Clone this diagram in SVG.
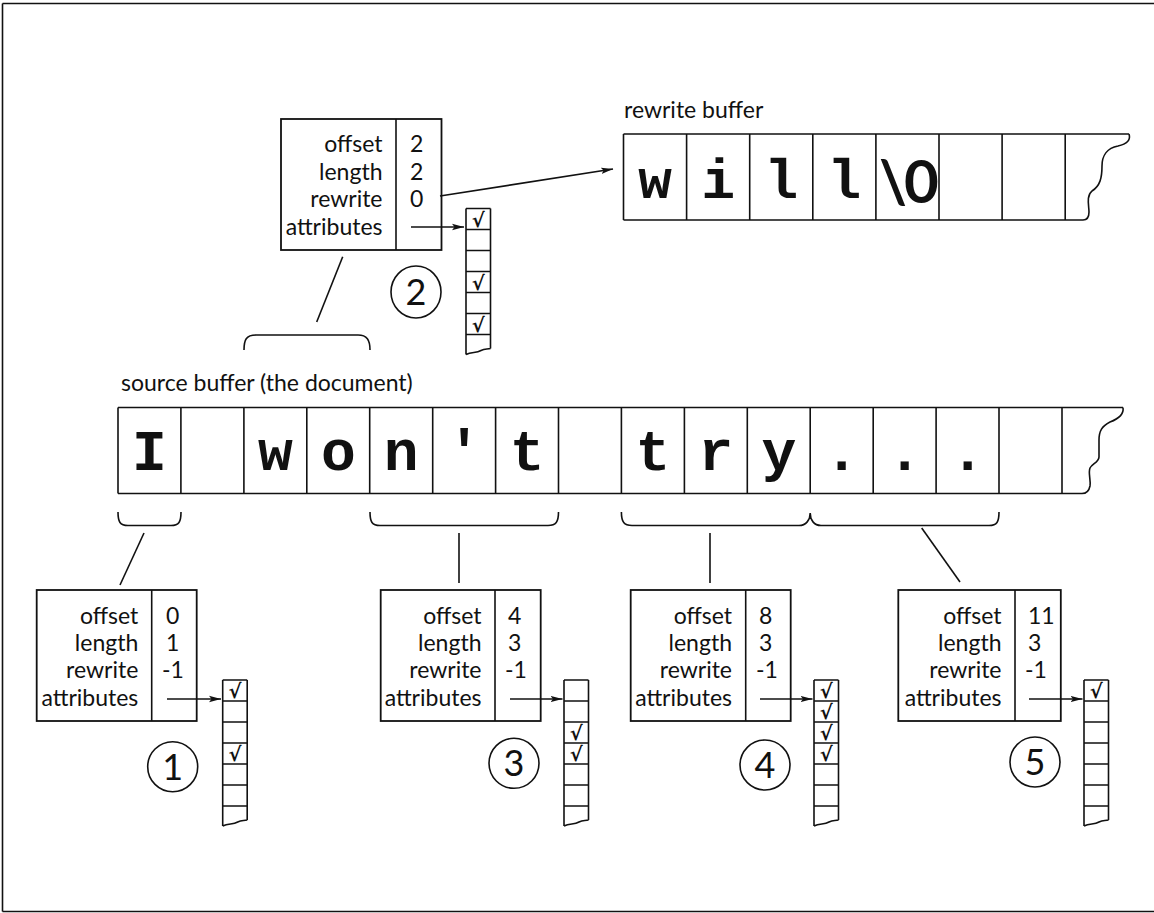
<svg xmlns="http://www.w3.org/2000/svg" width="1154" height="913" viewBox="0 0 1154 913">
<style>
.ln{fill:none;stroke:#111;stroke-width:1.6}
.box{fill:#fff;stroke:#111;stroke-width:1.8}
.lbl{font-family:Lato,"Liberation Sans",sans-serif;font-size:23px;fill:#111;text-anchor:end}
.val{font-family:Lato,"Liberation Sans",sans-serif;font-size:23px;fill:#111}
.cap{font-family:Lato,"Liberation Sans",sans-serif;font-size:23px;fill:#111}
.mono{font-family:"Liberation Mono",monospace;font-weight:bold;font-size:58px;fill:#111;text-anchor:middle}
.mono2{font-family:"Liberation Mono",monospace;font-weight:bold;font-size:56px;fill:#111;text-anchor:middle}
.num{font-family:Lato,"Liberation Sans",sans-serif;font-size:36px;fill:#111;text-anchor:middle}
.chk{font-family:"DejaVu Sans",sans-serif;font-weight:bold;font-size:19.5px;fill:#111;text-anchor:middle}
.circ{fill:none;stroke:#111;stroke-width:1.6}
</style>
<defs>
<marker id="ah" viewBox="0 0 12 8" refX="12" refY="4" markerWidth="12" markerHeight="8" markerUnits="userSpaceOnUse" orient="auto">
<path d="M0,0.8 L12,4 L0,7.2 L2.5,4 z" fill="#111"/>
</marker>
<g id="col">
<path class="ln" d="M0,0 L24.5,0 M0,21 L24.5,21 M0,42 L24.5,42 M0,63 L24.5,63 M0,84 L24.5,84 M0,105 L24.5,105 M0,126 L24.5,126 M0,0 L0,146 M24.5,0 L24.5,140 M0,146 C6,143 10,145 15,142 C19,140 21,141 24.5,140"/>
</g>
</defs>

<rect width="1154" height="913" fill="#fff"/>
<g id="frame">
<path class="ln" d="M2.5,3.5 L1154,3.5 M2.5,3.5 L2.5,911.5 M2.5,911.5 L1154,911.5" stroke-width="2"/>
</g>

<!-- Rewrite buffer -->
<g id="rewrite-buffer">
<text class="cap" x="624" y="118">rewrite buffer</text>
<path class="ln" d="M623.5,134 L1129,134 M623.5,220 L1083,220 M623.5,134 L623.5,220 M686.6,134 L686.6,220 M749.7,134 L749.7,220 M812.8,134 L812.8,220 M875.9,134 L875.9,220 M939,134 L939,220 M1002.1,134 L1002.1,220 M1065.2,134 L1065.2,220"/>
<path class="ln" d="M1129,134 C1131,140 1127,144 1118,146 C1107,148 1102,156 1102,166 C1102,178 1100,186 1092,191 C1086,196 1089,206 1089,212 C1089,217 1087,220 1083,220"/>
<text class="mono2" x="655" y="198">w</text>
<text class="mono2" x="718.2" y="198">i</text>
<text class="mono2" x="781.3" y="198">l</text>
<text class="mono2" x="844.4" y="198">l</text>
<text x="907.5" y="203" font-family="Lato,'Liberation Sans',sans-serif" font-weight="bold" font-size="60" fill="#111" text-anchor="middle" letter-spacing="-3">\0</text>
</g>

<!-- Source buffer -->
<g id="source-buffer">
<text class="cap" x="121" y="391">source buffer (the document)</text>
<path class="ln" d="M118,407.5 L1123,407.5 M118,493.5 L1082,493.5 M118,407.5 L118,493.5 M180.9,407.5 L180.9,493.5 M243.9,407.5 L243.9,493.5 M306.8,407.5 L306.8,493.5 M369.7,407.5 L369.7,493.5 M432.7,407.5 L432.7,493.5 M495.6,407.5 L495.6,493.5 M558.5,407.5 L558.5,493.5 M621.4,407.5 L621.4,493.5 M684.4,407.5 L684.4,493.5 M747.3,407.5 L747.3,493.5 M810.2,407.5 L810.2,493.5 M873.2,407.5 L873.2,493.5 M936.1,407.5 L936.1,493.5 M999,407.5 L999,493.5 M1062,407.5 L1062,493.5"/>
<path class="ln" d="M1123,407.5 C1124,414 1118,419 1110,422 C1102,426 1099,431 1099,440 L1099,457 C1099,462 1092,464 1090,468 C1088,473 1091,480 1090,486 C1089,491 1087,493.5 1082,493.5"/>
<text class="mono" x="149.5" y="470">I</text>
<text class="mono" x="275.3" y="470">w</text>
<text class="mono" x="338.3" y="470">o</text>
<text class="mono" x="401.2" y="470">n</text>
<text class="mono" x="464.2" y="470">'</text>
<text class="mono" x="527.1" y="470">t</text>
<text class="mono" x="652.9" y="470">t</text>
<text class="mono" x="715.8" y="470">r</text>
<text class="mono" x="778.8" y="470">y</text>
<text class="mono" x="841.7" y="470">.</text>
<text class="mono" x="904.6" y="470">.</text>
<text class="mono" x="967.6" y="470">.</text>
</g>

<!-- Record 2 (top) -->
<g id="record-2">
<rect class="box" x="281" y="119" width="160.5" height="131"/>
<path class="ln" d="M396,119 L396,250"/>
<text class="lbl" x="382.5" y="152">offset</text>
<text class="lbl" x="382.5" y="179.5">length</text>
<text class="lbl" x="382.5" y="207">rewrite</text>
<text class="lbl" x="382.5" y="234.5">attributes</text>
<text class="val" x="410" y="152">2</text>
<text class="val" x="410" y="179.5">2</text>
<text class="val" x="410" y="207">0</text>
</g>
<g id="attrs-2">
<use href="#col" x="466" y="208.5"/>
<text class="chk" x="478.3" y="226.5">√</text>
<text class="chk" x="478.3" y="289.5">√</text>
<text class="chk" x="478.3" y="331.5">√</text>
</g>
<g id="marker-2">
<ellipse class="circ" cx="416" cy="292" rx="25" ry="26"/>
<text class="num" x="416" y="305">2</text>
</g>

<!-- Record 1 -->
<g id="record-1">
<rect class="box" x="36.7" y="590" width="160" height="131"/>
<path class="ln" d="M151.7,590 L151.7,721"/>
<text class="lbl" x="138.3" y="624">offset</text>
<text class="lbl" x="138.3" y="651">length</text>
<text class="lbl" x="138.3" y="678">rewrite</text>
<text class="lbl" x="138.3" y="705.5">attributes</text>
<text class="val" x="166" y="624">0</text>
<text class="val" x="166" y="651">1</text>
<text class="val" x="162" y="678">-1</text>
</g>
<g id="attrs-1">
<use href="#col" x="222.7" y="680"/>
<text class="chk" x="235" y="698">√</text>
<text class="chk" x="235" y="761">√</text>
</g>
<g id="marker-1">
<circle class="circ" cx="172.7" cy="766.7" r="25"/>
<text class="num" x="172.7" y="779.5">1</text>
</g>

<!-- Record 3 -->
<g id="record-3">
<rect class="box" x="380.7" y="590" width="160" height="131"/>
<path class="ln" d="M495,590 L495,721"/>
<text class="lbl" x="481.5" y="624">offset</text>
<text class="lbl" x="481.5" y="651">length</text>
<text class="lbl" x="481.5" y="678">rewrite</text>
<text class="lbl" x="481.5" y="705.5">attributes</text>
<text class="val" x="508" y="624">4</text>
<text class="val" x="508" y="651">3</text>
<text class="val" x="505" y="678">-1</text>
</g>
<g id="attrs-3">
<use href="#col" x="564" y="680"/>
<text class="chk" x="576.3" y="740">√</text>
<text class="chk" x="576.3" y="761">√</text>
</g>
<g id="marker-3">
<circle class="circ" cx="514" cy="763.3" r="25"/>
<text class="num" x="514" y="776">3</text>
</g>

<!-- Record 4 -->
<g id="record-4">
<rect class="box" x="630.7" y="590" width="160" height="131"/>
<path class="ln" d="M745.7,590 L745.7,721"/>
<text class="lbl" x="732" y="624">offset</text>
<text class="lbl" x="732" y="651">length</text>
<text class="lbl" x="732" y="678">rewrite</text>
<text class="lbl" x="732" y="705.5">attributes</text>
<text class="val" x="759" y="624">8</text>
<text class="val" x="759" y="651">3</text>
<text class="val" x="756" y="678">-1</text>
</g>
<g id="attrs-4">
<use href="#col" x="814" y="680"/>
<text class="chk" x="826.3" y="698">√</text>
<text class="chk" x="826.3" y="719">√</text>
<text class="chk" x="826.3" y="740">√</text>
<text class="chk" x="826.3" y="761">√</text>
</g>
<g id="marker-4">
<circle class="circ" cx="765" cy="765" r="25"/>
<text class="num" x="765" y="778">4</text>
</g>

<!-- Record 5 -->
<g id="record-5">
<rect class="box" x="898.3" y="590" width="162.5" height="131"/>
<path class="ln" d="M1015,590 L1015,721"/>
<text class="lbl" x="1001.5" y="624">offset</text>
<text class="lbl" x="1001.5" y="651">length</text>
<text class="lbl" x="1001.5" y="678">rewrite</text>
<text class="lbl" x="1001.5" y="705.5">attributes</text>
<text class="val" x="1028" y="624">11</text>
<text class="val" x="1028" y="651">3</text>
<text class="val" x="1025" y="678">-1</text>
</g>
<g id="attrs-5">
<use href="#col" x="1084" y="680"/>
<text class="chk" x="1096.3" y="698">√</text>
</g>
<g id="marker-5">
<circle class="circ" cx="1035" cy="762" r="25"/>
<text class="num" x="1035" y="775">5</text>
</g>

<!-- Connectors: braces, leader lines, arrows -->
<g id="connectors">
<path class="ln" d="M244,350 C244,340 246,335 256,335 L358,335 C367,335 370,340 370,350"/>
<path class="ln" d="M118,512 C118,522 120,525.5 128,525.5 L171,525.5 C179,525.5 181,522 181,512"/>
<path class="ln" d="M370,512 C370,522 372,525.5 380,525.5 L548,525.5 C556,525.5 558.5,522 558.5,512"/>
<path class="ln" d="M621.4,512 C621.4,522 624,525.5 632,525.5 L799,525.5 C806,525.5 810.2,520 810.2,513 C810.2,520 814,525.5 821,525.5 L989,525.5 C997,525.5 999,522 999,512"/>
<path class="ln" d="M342.7,256.7 L316.7,322"/>
<path class="ln" d="M120,585 L144,533"/>
<path class="ln" d="M459,533 L459,583"/>
<path class="ln" d="M710,533 L710,583"/>
<path class="ln" d="M921.7,528 L960,582"/>
<path class="ln" d="M440,196 L613,169" marker-end="url(#ah)"/>
<path class="ln" d="M411,227 L464,227" marker-end="url(#ah)"/>
<path class="ln" d="M167,699 L221,699" marker-end="url(#ah)"/>
<path class="ln" d="M510,699 L562.5,699" marker-end="url(#ah)"/>
<path class="ln" d="M760,699 L812.5,699" marker-end="url(#ah)"/>
<path class="ln" d="M1029,699 L1082.5,699" marker-end="url(#ah)"/>
</g>
</svg>
